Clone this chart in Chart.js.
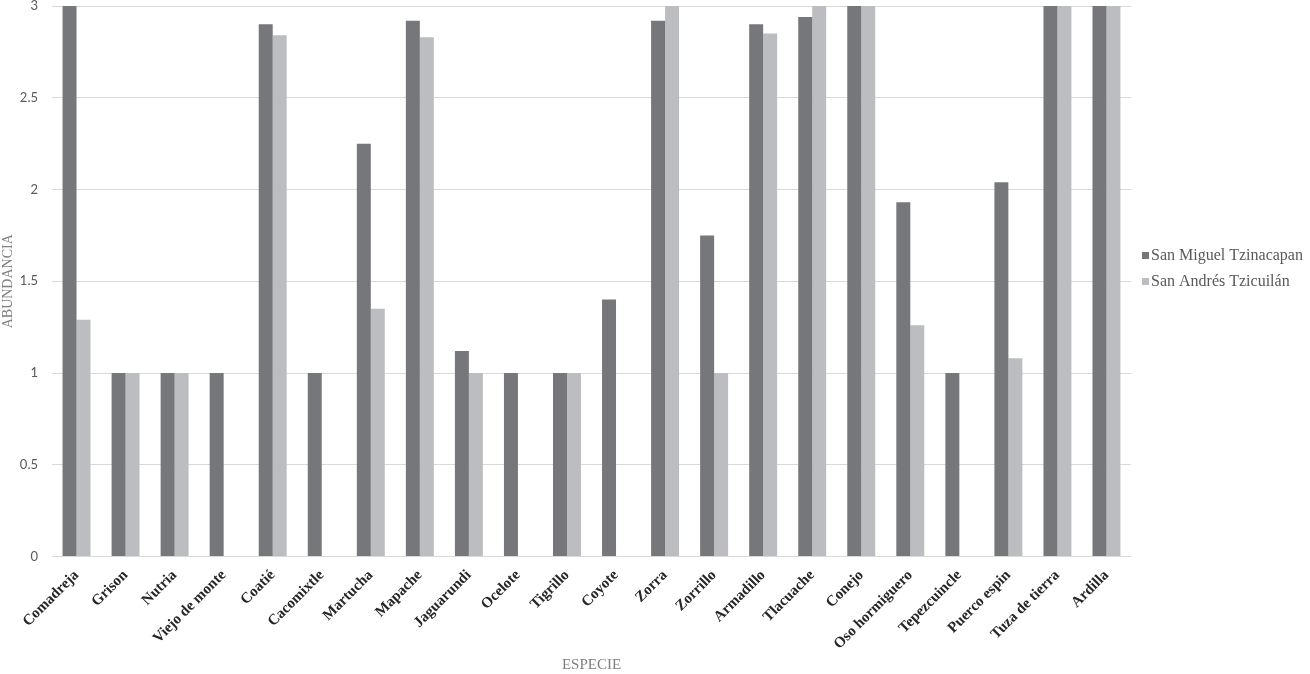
<!DOCTYPE html>
<html>
<head>
<meta charset="utf-8">
<script src="https://cdn.jsdelivr.net/npm/chart.js@4/dist/chart.umd.min.js"></script>
<style>
  html, body { margin: 0; padding: 0; background: #fff; }
  #wrap { width: 1310px; height: 674px; position: relative; }
</style>
</head>
<body>
<div id="wrap"><canvas id="chart"></canvas></div>
<script>
// especies (eje x)
const especies = ['Comadreja', 'Grison', 'Nutria', 'Viejo de monte', 'Coatié', 'Cacomixtle',
    'Martucha', 'Mapache', 'Jaguarundi', 'Ocelote', 'Tigrillo', 'Coyote', 'Zorra', 'Zorrillo',
    'Armadillo', 'Tlacuache', 'Conejo', 'Oso hormiguero', 'Tepezcuincle', 'Puerco espin',
    'Tuza de tierra', 'Ardilla'];

// abundancia por localidad
const sanMiguel = [3, 1, 1, 1, 2.9, 1, 2.25, 2.92, 1.12, 1, 1, 1.4, 2.92, 1.75, 2.9, 2.94, 3, 1.93, 1, 2.04, 3, 3];
const sanAndres = [1.29, 1, 1, 0, 2.84, 0, 1.35, 2.83, 1, 0, 1, 0, 3, 1, 2.85, 3, 3, 1.26, 0, 1.08, 3, 3];

const yTicks = [0, 0.5, 1, 1.5, 2, 2.5, 3];

const serif = '"Liberation Serif", "Times New Roman", serif';
const sans = 'Lato, "Open Sans", sans-serif';

// leyenda a la derecha, dibujada a mano para controlar la posicion
const sideLegend = {
    id: 'sideLegend',
    afterDraw(chart) {
        const ctx = chart.ctx;
        const x = chart.chartArea.right + 11;
        let y = 256;
        ctx.save();
        ctx.font = '16px ' + serif;
        ctx.textBaseline = 'middle';
        chart.data.datasets.forEach(ds => {
            ctx.fillStyle = ds.backgroundColor;
            ctx.fillRect(x, y - 4, 7, 7);
            ctx.fillStyle = '#595959';
            ctx.fillText(ds.label, x + 9, y);
            y += 26;
        });
        ctx.restore();
    }
};

new Chart(document.getElementById('chart'), {
    type: 'bar',
    data: {
        labels: especies,
        datasets: [
            {
                label: 'San Miguel Tzinacapan',
                data: sanMiguel,
                backgroundColor: '#76777b',
                borderWidth: 0
            },
            {
                label: 'San Andrés Tzicuilán',
                data: sanAndres,
                backgroundColor: '#bcbdc0',
                borderWidth: 0
            }
        ]
    },
    options: {
        responsive: true,
        maintainAspectRatio: false,
        animation: false,
        layout: { padding: { left: 0, right: 179, top: 0, bottom: 0 } },
        datasets: {
            bar: { categoryPercentage: 0.57, barPercentage: 1 }
        },
        scales: {
            x: {
                grid: { display: false },
                border: { display: false },
                afterFit: (s) => { s.paddingLeft = 0; },
                ticks: {
                    autoSkip: false,
                    maxRotation: 45,
                    minRotation: 45,
                    color: '#262626',
                    font: { family: serif, size: 15, weight: 'bold' },
                    padding: 2
                },
                title: {
                    display: true,
                    text: 'ESPECIE',
                    color: '#7f7f7f',
                    font: { family: serif, size: 15 },
                    padding: { top: 1, bottom: 0 }
                }
            },
            y: {
                min: 0,
                max: 3,
                afterBuildTicks: (axis) => { axis.ticks = yTicks.map(v => ({ value: v })); },
                afterFit: (s) => { s.paddingTop = 6; s.paddingBottom = 0; s.width = 52; },
                grid: { color: '#d9d9d9', drawTicks: false },
                border: { display: false },
                ticks: {
                    color: '#595959',
                    font: { family: sans, size: 13 },
                    padding: 14,
                    callback: (v) => String(v)
                },
                title: {
                    display: true,
                    text: 'ABUNDANCIA',
                    color: '#7f7f7f',
                    font: { family: serif, size: 14 },
                    padding: { top: 0, bottom: 0 }
                }
            }
        },
        plugins: {
            legend: { display: false },
            tooltip: { enabled: false }
        }
    },
    plugins: [sideLegend]
});
</script>
</body>
</html>
